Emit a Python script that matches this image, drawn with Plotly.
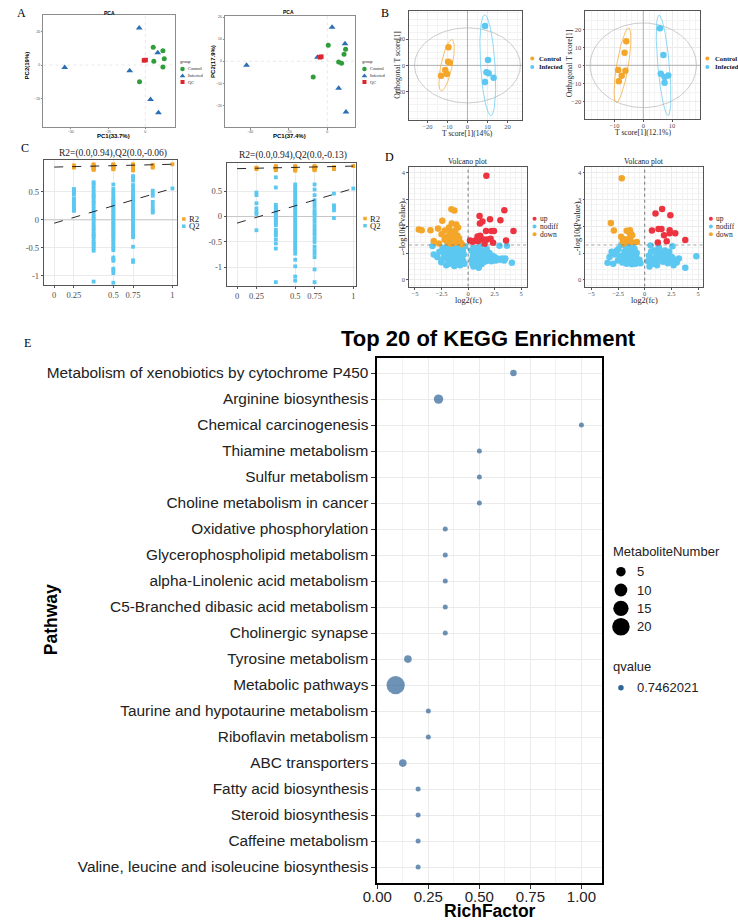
import numpy as np
import plotly.graph_objects as go

W, H = 738, 920
SERIF = "Liberation Serif, Times New Roman, serif"
SANS = "Liberation Sans, Arial, sans-serif"

# ---------------- DATA ----------------
# Panel A : PCA score plots
pca1_control_x = [5.3, 11.8, 12.7, 5.7, 11.8, -3.9]
pca1_control_y = [10.7, 8.5, 3.8, 2.2, -1.2, -10.0]
pca1_infected_x = [-4.1, 8.3, -54.1, -10.5, 3.5, 8.8]
pca1_infected_y = [22.1, 7.3, -1.4, -3.4, -20.5, -28.5]
pca1_qc_x = [-0.9, 0.2]
pca1_qc_y = [2.8, 3.0]

pca2_control_x = [0.5, 9.5, 8.7, 5.9, 7.4, -7.3]
pca2_control_y = [7.3, 5.5, 3.2, -0.3, -0.9, -7.1]
pca2_infected_x = [2.5, 9.2, -5.1, -41.9, 5.9, 9.7]
pca2_infected_y = [15.5, 8.0, 1.8, -1.8, -12.3, -23.0]
pca2_qc_x = [-3.8, -3.1]
pca2_qc_y = [1.8, 2.1]

# Panel B : OPLS-DA score plots
opls1_control_x = [-9.5, -9.7, -8.8, -11.1, -10.3, -13.2]
opls1_control_y = [13.7, 2.7, 2.0, -3.6, -6.6, -7.9]
opls1_infected_x = [8.8, 10.3, 9.5, 10.6, 13.1, 8.8]
opls1_infected_y = [29.9, 4.0, -5.3, -5.9, -9.4, -12.7]
opls1_t2_radius = [26.5, 28.5]

opls2_control_x = [-5.9, -6.5, -8.7, -6.2, -7.5, -8.5]
opls2_control_y = [13.3, 7.0, -2.6, -3.0, -5.8, -8.9]
opls2_infected_x = [5.8, 7.0, 6.1, 7.4, 8.7, 7.4]
opls2_infected_y = [20.6, 5.7, -4.7, -6.5, -5.6, -9.7]
opls2_t2_radius = [18.5, 23.5]

# Panel C : permutation tests
perm_levels = [1/6, 2/6, 3/6, 4/6, 5/6, 1.0]
c1_r2 = [[0.97, 0.95, 0.94, 0.93],
         [0.99, 0.97, 0.96, 0.95, 0.94, 0.93, 0.92, 0.91, 0.90, 0.89],
         [0.99, 0.98, 0.97, 0.96, 0.95, 0.94, 0.93, 0.92, 0.91, 0.90],
         [0.99, 0.98, 0.97, 0.96, 0.95, 0.94, 0.93, 0.92, 0.91, 0.90, 0.89, 0.88],
         [0.98, 0.96, 0.95, 0.93],
         [0.99]]
c1_q2 = [[0.55, 0.52, 0.48, 0.45, 0.38, 0.35, 0.32, 0.30, 0.26, 0.22, 0.19, 0.16],
         [0.67, 0.64, 0.60, 0.55, 0.50, 0.45, 0.42, 0.38, 0.33, 0.30, 0.25, 0.20, 0.15, 0.10,
          0.05, 0.02, -0.03, -0.08, -0.12, -0.16, -0.20, -0.25, -0.28, -0.30, -0.35, -0.40,
          -0.43, -0.47, -0.51, -0.55, -1.10],
         [0.63, 0.55, 0.50, 0.45, 0.40, 0.36, 0.33, 0.30, 0.27, 0.24, 0.20, 0.17, 0.14, 0.10,
          0.07, 0.04, 0.00, -0.04, -0.07, -0.10, -0.13, -0.17, -0.20, -0.24, -0.27, -0.30,
          -0.34, -0.38, -0.42, -0.46, -0.50, -0.54, -0.67, -0.70, -0.73, -0.87, -0.90, -0.95, -1.12],
         [0.78, 0.75, 0.70, 0.62, 0.58, 0.52, 0.47, 0.43, 0.40, 0.36, 0.33, 0.29, 0.25, 0.22,
          0.18, 0.14, 0.10, 0.07, 0.03, 0.00, -0.04, -0.08, -0.12, -0.16, -0.20, -0.24, -0.28,
          -0.31, -0.48, -0.72, -0.75],
         [0.52, 0.47, 0.43, 0.32, 0.26, 0.20, 0.16, 0.13],
         [0.56]]
c1_r2_intercept, c1_q2_intercept = 0.94, -0.06

c2_r2 = [[0.96, 0.95, 0.93],
         [0.99, 0.98, 0.97, 0.96, 0.95, 0.94, 0.93, 0.92, 0.91],
         [0.99, 0.98, 0.97, 0.96, 0.95, 0.94, 0.93, 0.92, 0.91, 0.90],
         [0.99, 0.98, 0.97, 0.96, 0.95, 0.94, 0.93, 0.92, 0.91],
         [0.97, 0.95, 0.93],
         [0.99]]
c2_q2 = [[0.47, 0.42, 0.26, 0.16, 0.09, 0.05, -0.27],
         [0.77, 0.57, 0.23, 0.19, 0.16, 0.12, 0.09, 0.06, 0.03, -0.01, -0.04, -0.07, -0.10,
          -0.14, -0.17, -0.26, -0.30, -0.34, -0.37, -0.45, -0.53, -0.63, -1.29],
         [0.63, 0.58, 0.53, 0.48, 0.43, 0.38, 0.33, 0.28, 0.23, 0.18, 0.13, 0.08, 0.03, -0.02,
          -0.07, -0.12, -0.17, -0.22, -0.27, -0.32, -0.37, -0.42, -0.47, -0.52, -0.57, -0.62,
          -0.67, -0.73, -0.85, -0.98, -1.18, -1.26],
         [0.63, 0.53, 0.42, 0.32, 0.26, 0.19, 0.12, 0.07, 0.03, -0.04, -0.10, -0.17, -0.24,
          -0.30, -0.36, -0.43, -0.50, -0.59, -0.66, -0.73, -0.80, -1.04, -1.29],
         [0.45, 0.22, 0.19, 0.16, 0.12, -0.03],
         [0.55]]
c2_r2_intercept, c2_q2_intercept = 0.94, -0.13

# Panel D : volcano plots
d1_up_x = [1.72, 3.41, 1.08, 2.06, 3.04, 1.35, 1.11, 4.27, 1.69, 2.21, 2.43, 1.14, 0.89,
           3.57, 0.68, 1.38, 2.12, 1.78, 0.43, 0.95, 0.18, 1.55, 2.35]
d1_up_y = [3.87, 2.59, 2.38, 2.26, 2.22, 2.17, 2.10, 1.82, 1.82, 1.82, 1.82, 1.64, 1.62,
           1.47, 1.47, 1.51, 1.53, 1.50, 1.42, 1.45, 1.47, 1.35, 1.38]
d1_down_x = [-1.57, -1.29, -2.43, -4.64, -4.37, -3.54, -2.83, -2.18, -1.54, -1.11, -0.95,
             -3.23, -2.74, -1.80, -1.65, -1.45, -1.30, -1.20, -1.00, -0.85, -2.00, -1.90,
             -1.70, -1.50, -1.35, -1.10, -0.90, -0.70, -2.20, -1.60, -1.40, -1.20, -0.60,
             -2.50, -1.95, -1.75]
d1_down_y = [2.63, 2.58, 2.20, 1.88, 1.85, 1.85, 1.91, 1.84, 2.10, 2.06, 1.95, 1.45, 1.36,
             1.95, 1.80, 1.75, 1.70, 1.85, 1.65, 1.55, 1.60, 1.48, 1.55, 1.45, 1.60, 1.40,
             1.45, 1.38, 1.50, 1.35, 1.38, 1.50, 1.33, 1.70, 1.40, 1.65]
d1_nodiff_x = [-3.35, -3.23, -2.52, -2.50, -2.30, -2.20, -2.10, -2.00, -1.90, -1.85, -1.80,
               -1.70, -1.65, -1.60, -1.55, -1.50, -1.45, -1.40, -1.35, -1.30, -1.25, -1.20,
               -1.15, -1.10, -1.05, -1.00, -0.95, -0.90, -0.85, -0.80, -0.75, -0.70, -0.65,
               -0.60, -0.55, -0.50, -0.45, -0.40, -0.35, -0.30, -2.70, -2.90, -2.40, -1.95,
               -1.00, -0.60, -1.75, -2.05, -1.30,
               0.30, 0.35, 0.40, 0.45, 0.50, 0.55, 0.60, 0.65, 0.70, 0.75, 0.80, 0.85, 0.90,
               0.95, 1.00, 1.05, 1.10, 1.15, 1.20, 1.25, 1.30, 1.35, 1.40, 1.50, 1.55, 1.60,
               1.70, 1.75, 1.80, 1.90, 2.00, 2.10, 2.20, 2.30, 2.40, 2.50, 2.60, 2.75, 2.95,
               3.00, 3.20, 3.40, 3.66, 3.50, 4.12, 0.50, 1.00]
d1_nodiff_y = [1.26, 0.95, 0.66, 0.72, 0.85, 1.00, 1.15, 0.90, 0.75, 1.05, 1.20, 0.95, 0.80,
               0.68, 1.10, 0.90, 1.25, 0.75, 1.00, 0.62, 0.85, 1.15, 0.70, 0.95, 0.58, 1.05,
               0.80, 0.65, 1.20, 0.90, 0.55, 0.75, 1.00, 0.62, 0.85, 1.10, 0.70, 0.95, 0.60,
               1.25, 1.05, 0.85, 1.20, 1.28, 1.28, 1.28, 0.60, 0.55, 0.52,
               1.10, 0.75, 0.60, 0.90, 1.20, 0.65, 0.85, 1.00, 0.55, 0.75, 1.15, 0.90, 0.62,
               1.05, 0.80, 0.68, 1.25, 0.95, 0.72, 0.58, 1.10, 0.85, 0.65, 1.00, 0.78, 0.90,
               0.70, 1.15, 0.85, 0.75, 1.00, 0.82, 0.70, 0.90, 0.78, 0.85, 0.72, 0.80, 1.27,
               0.75, 0.80, 0.72, 1.27, 0.80, 0.64, 0.50, 0.45]

d2_up_x = [1.63, 1.01, 2.40, 0.68, 1.29, 1.57, 2.34, 2.34, 2.86, 1.81, 2.06, 1.23, 3.80]
d2_up_y = [2.64, 2.47, 2.41, 1.84, 1.89, 1.89, 1.85, 1.74, 1.74, 1.66, 1.44, 1.39, 1.49]
d2_down_x = [-2.15, -3.17, -2.89, -1.69, -1.38, -1.44, -1.29, -2.21, -1.90, -0.73, -1.23,
             -1.47, -1.96, -1.17, -1.60, -1.35, -2.05]
d2_down_y = [3.78, 2.12, 1.84, 1.83, 1.85, 1.77, 1.72, 1.61, 1.51, 1.41, 1.41, 1.53, 1.36,
             1.66, 1.45, 1.60, 1.45]
d2_nodiff_x = [-3.48, -3.30, -3.10, -2.95, -2.80, -2.60, -2.50, -2.35, -2.20, -2.10, -2.00,
               -1.90, -1.80, -1.75, -1.70, -1.60, -1.55, -1.50, -1.45, -1.40, -1.35, -1.30,
               -1.25, -1.20, -1.15, -1.10, -1.05, -1.00, -0.95, -0.90, -0.85, -0.80, -0.70,
               -0.60, -0.50, -0.40, -1.65, -1.20, -0.75, -2.45,
               0.30, 0.40, 0.50, 0.60, 0.70, 0.80, 0.90, 1.00, 1.10, 1.20, 1.30, 1.40, 1.50,
               1.60, 1.70, 1.80, 1.90, 2.00, 2.10, 2.20, 2.30, 2.45, 2.55, 2.70, 2.85, 3.00,
               3.20, 3.80, 4.84, 0.55, 0.95, 1.35, 1.75, 2.15, 2.60, 0.45, 1.15]
d2_nodiff_y = [0.64, 0.85, 1.05, 0.60, 0.95, 1.10, 0.72, 0.90, 1.30, 0.65, 0.85, 1.05, 0.70,
               1.20, 0.60, 0.95, 0.75, 1.10, 0.65, 0.85, 1.25, 0.70, 0.95, 0.58, 1.05, 0.80,
               0.65, 0.90, 1.15, 0.72, 0.60, 0.85, 0.70, 0.65, 0.75, 0.62, 1.30, 1.30, 1.00, 1.15,
               0.70, 0.90, 0.65, 1.05, 0.80, 0.60, 1.10, 0.85, 0.70, 0.95, 1.25, 0.75, 0.88,
               1.00, 0.68, 0.90, 1.10, 0.80, 0.95, 0.75, 1.05, 0.70, 0.85, 0.55, 0.75, 0.65,
               0.80, 0.45, 0.88, 1.28, 0.60, 1.15, 0.95, 0.62, 1.25, 0.50, 0.55]

# Panel E : KEGG enrichment
pathways = ["Metabolism of xenobiotics by cytochrome P450", "Arginine biosynthesis",
            "Chemical carcinogenesis", "Thiamine metabolism", "Sulfur metabolism",
            "Choline metabolism in cancer", "Oxidative phosphorylation",
            "Glycerophospholipid metabolism", "alpha-Linolenic acid metabolism",
            "C5-Branched dibasic acid metabolism", "Cholinergic synapse", "Tyrosine metabolism",
            "Metabolic pathways", "Taurine and hypotaurine metabolism", "Riboflavin metabolism",
            "ABC transporters", "Fatty acid biosynthesis", "Steroid biosynthesis",
            "Caffeine metabolism", "Valine, leucine and isoleucine biosynthesis"]
rich_factor = [0.667, 0.30, 1.0, 0.5, 0.5, 0.5, 0.333, 0.333, 0.333, 0.333, 0.333, 0.15,
               0.09, 0.25, 0.25, 0.125, 0.2, 0.2, 0.2, 0.2]
metabolite_number = [2, 5, 1, 1, 1, 1, 1, 1, 1, 1, 1, 3, 22, 1, 1, 3, 1, 1, 1, 1]
size_breaks = [5, 10, 15, 20]
qvalue_label = "0.7462021"

# ---------------- STYLE ----------------
GREEN, TBLUE, QRED = "#2E9E3A", "#2C6FB5", "#E0242B"
ORANGE, CYAN, RED = "#F4A62A", "#5CC8F2", "#EE3340"
KEGG = "#2F6497"


def size_of(n):
    return 1.4 + 3.6 * np.sqrt(n)


fig = go.Figure()
layout = dict(width=W, height=H, margin=dict(l=0, r=0, t=0, b=0),
              paper_bgcolor="white", plot_bgcolor="rgba(0,0,0,0)", showlegend=False)
annotations = []


def text(x, y, s, size, family=SANS, color="#000000", bold=False, angle=0,
         xanchor="center", yanchor="middle"):
    if bold:
        s = f"<b>{s}</b>"
    annotations.append(dict(x=x / W, y=1 - y / H, xref="paper", yref="paper", text=s,
                            showarrow=False, font=dict(size=size, family=family, color=color),
                            textangle=angle, xanchor=xanchor, yanchor=yanchor, borderpad=0))


def add_axes(n, box, xr, yr, xo=None, yo=None):
    left, top, right, bottom = box
    xk = "xaxis" if n == 1 else f"xaxis{n}"
    yk = "yaxis" if n == 1 else f"yaxis{n}"
    ya = "y" if n == 1 else f"y{n}"
    xa = "x" if n == 1 else f"x{n}"
    base = dict(showline=True, mirror=True, zeroline=False, ticks="outside", fixedrange=True)
    layout[xk] = dict(domain=[left / W, right / W], range=xr, anchor=ya, **base, **(xo or {}))
    layout[yk] = dict(domain=[1 - bottom / H, 1 - top / H], range=yr, anchor=xa, **base, **(yo or {}))
    return xa, ya


def sty(font, size, linecolor, grid=None, minor=False, tickvals=None, ticktext=None,
        ticklen=2, lw=0.8, tickcolor=None, fcolor="#4D4D4D", standoff=0):
    d = dict(linecolor=linecolor, linewidth=lw, tickfont=dict(family=font, size=size, color=fcolor),
             ticklen=ticklen, tickwidth=0.6, tickcolor=tickcolor or linecolor,
             ticklabelstandoff=int(standoff))
    if grid:
        d.update(showgrid=True, gridcolor=grid, gridwidth=0.6)
    else:
        d.update(showgrid=False)
    if minor and grid:
        d["minor"] = dict(showgrid=True, gridcolor="#F3F3F3", gridwidth=0.4, ticks="")
    if tickvals is not None:
        d.update(tickmode="array", tickvals=tickvals)
        if ticktext is not None:
            d["ticktext"] = ticktext
    return d


def scat(xa, ya, x, y, color, symbol="circle", size=5, opacity=1.0):
    fig.add_trace(go.Scatter(x=x, y=y, xaxis=xa, yaxis=ya, mode="markers", hoverinfo="skip",
                             marker=dict(color=color, symbol=symbol, size=size, opacity=opacity,
                                         line=dict(width=0)), cliponaxis=False))


def line(xa, ya, x, y, color, width=0.8, dash="solid"):
    fig.add_trace(go.Scatter(x=x, y=y, xaxis=xa, yaxis=ya, mode="lines", hoverinfo="skip",
                             line=dict(color=color, width=width, dash=dash)))


def conf_ellipse(xs, ys, scale=2.4477, n=120):
    pts = np.vstack([xs, ys])
    mu = pts.mean(axis=1)
    cov = np.cov(pts)
    vals, vecs = np.linalg.eigh(cov)
    t = np.linspace(0, 2 * np.pi, n)
    circ = np.vstack([np.cos(t), np.sin(t)]) * (scale * np.sqrt(vals))[:, None]
    e = vecs @ circ + mu[:, None]
    return e[0], e[1]


def ellipse(rx, ry, n=160):
    t = np.linspace(0, 2 * np.pi, n)
    return rx * np.cos(t), ry * np.sin(t)


# ---------------- PANEL A ----------------
pca_panels = [
    (1, (29, 15, 163, 127), [-68.4, 19.7], [-37, 29.9], [-50, -25, 0], [-20, 0, 20],
     pca1_control_x, pca1_control_y, pca1_infected_x, pca1_infected_y, pca1_qc_x, pca1_qc_y),
    (2, (214.3, 15.7, 346.7, 127.3), [-53.1, 14.2], [-30, 20.7], [-40, -20, 0],
     [-20, -10, 0, 10, 20],
     pca2_control_x, pca2_control_y, pca2_infected_x, pca2_infected_y, pca2_qc_x, pca2_qc_y),
]
for (n, box, xr, yr, xt, yt, cx, cy, ix, iy, qx, qy) in pca_panels:
    xa, ya = add_axes(n, box, xr, yr,
                      sty(SANS, 3.5, "#8C8C8C", tickvals=xt, ticklen=1.5, standoff=-1),
                      sty(SANS, 3.5, "#8C8C8C", tickvals=yt, ticklen=1.5))
    line(xa, ya, [0, 0], yr, "#D9D9D9", 0.6, "dot")
    line(xa, ya, xr, [0, 0], "#D9D9D9", 0.6, "dot")
    scat(xa, ya, cx, cy, GREEN, "circle", 5)
    scat(xa, ya, ix, iy, TBLUE, "triangle-up", 6)
    scat(xa, ya, qx, qy, QRED, "square", 4.5)

text(7, 13, "A", 12, SERIF)
text(96, 12.5, "PCA", 5, SANS, bold=True)
text(100.7, 136, "PC1(33.7%)", 6, SANS, bold=True)
text(12.7, 65, "PC2(19%)", 6, SANS, bold=True, angle=-90)
text(279.3, 12.3, "PCA", 5, SANS, bold=True)
text(280.7, 136, "PC1(37.4%)", 6, SANS, bold=True)
text(202.7, 61.3, "PC2(17.9%)", 6, SANS, bold=True, angle=-90)

# ---------------- PANEL B ----------------
opls_panels = [
    (3, (402.3, 11, 517.7, 120), [-29.2, 27.4], [-41.5, 41.3], [-20, -10, 0, 10, 20],
     [-20, 0, 20], opls1_control_x, opls1_control_y, opls1_infected_x, opls1_infected_y,
     opls1_t2_radius),
    (4, (582.3, 10.7, 699.7, 119), [-20.1, 19.9], [-29.8, 30.3], [-10, 0, 10],
     [-20, -10, 0, 10, 20], opls2_control_x, opls2_control_y, opls2_infected_x,
     opls2_infected_y, opls2_t2_radius),
]
for (n, box, xr, yr, xt, yt, cx, cy, ix, iy, t2) in opls_panels:
    xa, ya = add_axes(n, box, xr, yr,
                      sty(SERIF, 6.5, "#555555", grid="#EBEBEB", minor=True, tickvals=xt,
                          standoff=-2),
                      sty(SERIF, 6.5, "#555555", grid="#EBEBEB", minor=True, tickvals=yt))
    line(xa, ya, [0, 0], yr, "#9A9A9A", 0.7)
    line(xa, ya, xr, [0, 0], "#9A9A9A", 0.7)
    ex, ey = ellipse(*t2)
    line(xa, ya, ex, ey, "#B5B5B5", 0.7)
    ex, ey = conf_ellipse(cx, cy)
    line(xa, ya, ex, ey, ORANGE, 0.7)
    ex, ey = conf_ellipse(ix, iy)
    line(xa, ya, ex, ey, CYAN, 0.7)
    scat(xa, ya, cx, cy, ORANGE, "circle", 6.5)
    scat(xa, ya, ix, iy, CYAN, "circle", 6.5)

text(377.7, 13, "B", 12, SERIF)
text(462, 133, "T score[1](14%)", 7.6, SERIF, color="#222")
text(390.7, 65, "Orthogonal T score[1]", 7.6, SERIF, color="#222", angle=-90)
text(641, 132, "T score[1](12.1%)", 7.6, SERIF, color="#222")
text(566.7, 63, "Orthogonal T score[1]", 7.6, SERIF, color="#222", angle=-90)

# ---------------- PANEL C ----------------
perm_panels = [
    (5, (29.3, 160, 165.3, 285.3), [-0.089, 1.038], [-1.166, 1.066], c1_r2, c1_q2,
     c1_r2_intercept, c1_q2_intercept, "R2=(0.0,0.94),Q2(0.0,-0.06)", 100.5, 153.3),
    (6, (216, 162.7, 348.3, 285.7), [-0.09, 1.025], [-1.36, 1.057], c2_r2, c2_q2,
     c2_r2_intercept, c2_q2_intercept, "R2=(0.0,0.94),Q2(0.0,-0.13)", 283.3, 155.5),
]
for (n, box, xr, yr, r2, q2, r2i, q2i, title, tx, ty) in perm_panels:
    xa, ya = add_axes(n, box, xr, yr,
                      sty(SERIF, 8.5, "#555555", grid="#EBEBEB",
                          tickvals=[0, perm_levels[0], perm_levels[2], perm_levels[3], 1],
                          ticktext=["0", "0.25", "0.5", "0.75", "1"]),
                      sty(SERIF, 8.5, "#555555", grid="#EBEBEB", tickvals=[-1, -0.5, 0, 0.5],
                          ticktext=["-1", "-0.5", "0", "0.5"]))
    line(xa, ya, xr, [0, 0], "#BDBDBD", 0.8)
    qx, qy, rx, ry = [], [], [], []
    for lvl, q, r in zip(perm_levels, q2, r2):
        qx += [lvl] * len(q)
        qy += q
        rx += [lvl] * len(r)
        ry += r
    scat(xa, ya, qx, qy, CYAN, "square", 3.8)
    scat(xa, ya, rx, ry, ORANGE, "square", 3.8)
    line(xa, ya, [0, 1], [r2i, r2[-1][0]], "#111111", 0.9, "dash")
    line(xa, ya, [0, 1], [q2i, q2[-1][0]], "#111111", 0.9, "dash")
    text(tx, ty, title, 9.5, SERIF, color="#222")

text(10.7, 148, "C", 12, SERIF)

# ---------------- PANEL D ----------------
volc_panels = [
    (7, (402.3, 166.7, 522.7, 286.7), [-5.55, 5.55], d1_up_x, d1_up_y, d1_down_x, d1_down_y,
     d1_nodiff_x, d1_nodiff_y, 462.5),
    (8, (582.3, 166.7, 702.7, 286.7), [-5.55, 5.5], d2_up_x, d2_up_y, d2_down_x, d2_down_y,
     d2_nodiff_x, d2_nodiff_y, 642.5),
]
for (n, box, xr, ux, uy, dx, dy, nx, ny, cxp) in volc_panels:
    yr = [-0.25, 4.21]
    xa, ya = add_axes(n, box, xr, yr,
                      sty(SERIF, 6.5, "#555555", grid="#EBEBEB", minor=True,
                          tickvals=[-5, -2.5, 0, 2.5, 5], standoff=-1),
                      sty(SERIF, 6.5, "#555555", grid="#EBEBEB", minor=True,
                          tickvals=[0, 1, 2, 3, 4]))
    scat(xa, ya, nx, ny, CYAN, "circle", 6.5)
    scat(xa, ya, dx, dy, ORANGE, "circle", 6.5)
    scat(xa, ya, ux, uy, RED, "circle", 6.5)
    line(xa, ya, [0, 0], yr, "#444444", 0.7, "dot")
    line(xa, ya, xr, [-np.log10(0.05)] * 2, "#777777", 0.7, "dot")
    text(cxp, 162, "Volcano plot", 7.7, SERIF, color="#222")
    text(cxp, 300, "log2(fc)", 8.3, SERIF, color="#222")

text(395, 226, "-log10(Pvalue)", 8.3, SERIF, color="#222", angle=-90)
text(574, 226, "-log10(Pvalue)", 8.3, SERIF, color="#222", angle=-90)
text(382, 156.7, "D", 12, SERIF)

# ---------------- PANEL E ----------------
xa, ya = add_axes(9, (369.8, 357.5, 599, 882.7), [0, 1.1], [-0.6, 19.6],
                  dict(linecolor="#000000", linewidth=1.6, showgrid=True, gridcolor="#EBEBEB",
                       gridwidth=1, tickvals=[0, 0.25, 0.5, 0.75, 1.0],
                       ticktext=["0.00", "0.25", "0.50", "0.75", "1.00"],
                       minor=dict(showgrid=True, gridcolor="#F2F2F2", gridwidth=0.8,
                                  dtick=0.125, tick0=0.125, ticks=""),
                       ticklen=4, tickcolor="#333333", tickwidth=1, ticklabelstandoff=-5,
                       tickfont=dict(family=SANS, size=15, color="#222222")),
                  dict(linecolor="#000000", linewidth=1.6, showgrid=True, gridcolor="#EBEBEB",
                       gridwidth=1, type="category", categoryorder="array",
                       categoryarray=pathways[::-1], ticklen=4, tickcolor="#333333",
                       tickwidth=1, tickfont=dict(family=SANS, size=15.4, color="#222222")))
fig.add_trace(go.Scatter(x=rich_factor, y=pathways, xaxis=xa, yaxis=ya, mode="markers",
                         hoverinfo="skip", cliponaxis=False,
                         marker=dict(color=KEGG, size=[size_of(v) for v in metabolite_number],
                                     line=dict(width=0))))

text(13, 343, "E", 12, SERIF)
text(483, 338.5, "Top 20 of KEGG Enrichment", 22, SANS, bold=True)
text(37, 620, "Pathway", 17.5, SANS, bold=True, angle=-90)
text(484.4, 910.5, "RichFactor", 17.5, SANS, bold=True)

# ---------------- LEGENDS (overlay in pixel coords) ----------------
layout["xaxis20"] = dict(domain=[0, 1], range=[0, W], visible=False, fixedrange=True, anchor="y20")
layout["yaxis20"] = dict(domain=[0, 1], range=[H, 0], visible=False, fixedrange=True, anchor="x20")


def leg_mark(x, y, color, symbol, size):
    fig.add_trace(go.Scatter(x=[x], y=[y], xaxis="x20", yaxis="y20", mode="markers",
                             hoverinfo="skip", cliponaxis=False,
                             marker=dict(color=color, symbol=symbol, size=size, line=dict(width=0))))


# A legends
for gx, mx, tx in [(167.7, 171, 176), (352.7, 356.7, 361.5)]:
    text(gx, 62, "group", 4.5, SERIF, color="#222", xanchor="left")
    for yy, col, sym, lab, sz in [(69, GREEN, "circle", "Control", 4.5),
                                  (76, TBLUE, "triangle-up", "Infected", 5),
                                  (82, QRED, "square", "QC", 4)]:
        leg_mark(mx, yy, col, sym, sz)
        text(tx, yy, lab, 4.5, SERIF, color="#222", xanchor="left")

# B legends
for mx, tx in [(528, 533.5), (706.7, 713)]:
    for yy, col, lab in [(58.5, ORANGE, "Control"), (67, CYAN, "Infected")]:
        leg_mark(mx, yy, col, "circle", 4)
        text(tx, yy, lab, 6.7, SERIF, color="#111", bold=True, xanchor="left")

# C legends
for mx, tx, y0 in [(172.3, 176.5, 219), (357.3, 361.7, 218.5)]:
    for yy, col, lab in [(y0, ORANGE, "R2"), (y0 + 7.2, CYAN, "Q2")]:
        leg_mark(mx, yy, col, "square", 3.5)
        text(tx, yy, lab, 8.6, SERIF, color="#222", xanchor="left")

# D legends
for mx, tx in [(530.3, 534.5), (710.3, 714.5)]:
    for yy, col, lab in [(218.7, RED, "up"), (226.5, CYAN, "nodiff"), (234.3, ORANGE, "down")]:
        leg_mark(mx, yy, col, "circle", 4)
        text(tx, yy, lab, 7.5, SERIF, color="#222", xanchor="left")

# E legend
text(609, 551, "MetaboliteNumber", 13, SANS, color="#222", xanchor="left")
for yy, b in zip([571.7, 590, 608.3, 626.7], size_breaks):
    leg_mark(618.5, yy, "#000000", "circle", size_of(b))
    text(634, yy, str(b), 13, SANS, color="#222", xanchor="left")
text(609, 666.7, "qvalue", 13, SANS, color="#222", xanchor="left")
leg_mark(618.5, 687.7, KEGG, "circle", 5.5)
text(634, 687.7, qvalue_label, 13, SANS, color="#222", xanchor="left")

layout["annotations"] = annotations
fig.update_layout(**layout)
fig.write_html("out.html")
